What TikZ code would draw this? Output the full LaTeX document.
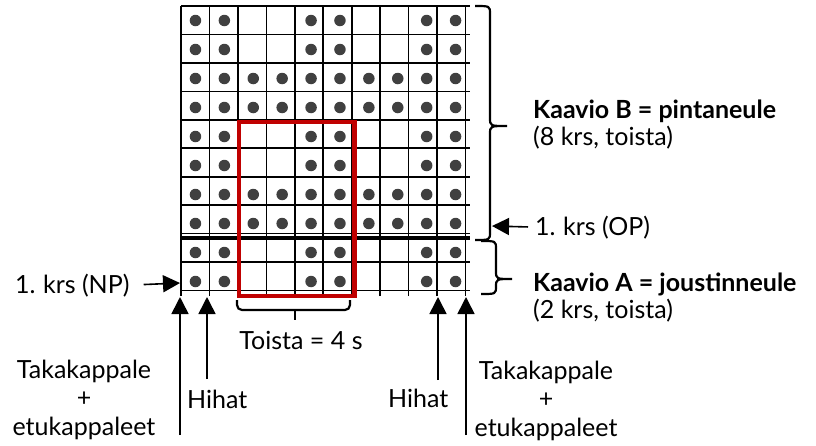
\documentclass[tikz,border=0pt]{standalone}
\usepackage{fontspec}
\setmainfont{Lato}
\usetikzlibrary{arrows.meta}

\definecolor{dotgray}{HTML}{404040}
\definecolor{repred}{HTML}{C00000}

\tikzset{stitch/.style={fill=dotgray,circle,inner sep=0pt,minimum size=11.5pt}}
\tikzstyle{txt}=[font=\fontsize{25}{28.5}\selectfont,inner sep=0pt]
\tikzstyle{arr}=[-{Triangle[width=17pt,length=17pt]},line width=1.6pt]
\tikzstyle{brace}=[line width=2.2pt]

% spine x, tip x, top y, tip y, bottom y
\newcommand{\kbrace}[5]{%
	\draw[brace] ({#1-15},#3) .. controls (#1,#3) .. (#1,{#3+8}) -- (#1,{#4-8})
		.. controls (#1,#4) .. (#2,#4) .. controls (#1,#4) .. (#1,{#4+8})
		-- (#1,{#5-8}) .. controls (#1,#5) .. ({#1-15},#5);}

\begin{document}
\begin{tikzpicture}[x=1pt,y=-1pt]
	\useasboundingbox (0,0) rectangle (816,445);
	\begin{scope}[shift={(181,6)},x=28.9pt,y=-29pt]
		\draw[line width=1.6pt] (0,0) grid (10,10);
		% purl stitches
		\foreach \r in {1,...,10}{
			\foreach \c in {1,2,5,6,9,10}{
				\node[stitch] (s\r-\c) at (\c-0.5,\r-0.5) {};
			}
		}
		\foreach \r in {3,4,7,8}{
			\foreach \c in {3,4,7,8}{
				\node[stitch] (s\r-\c) at (\c-0.5,\r-0.5) {};
			}
		}
		\draw[line width=3.3pt] (0,8) -- (10,8);
		\draw[repred,line width=4.3pt] (2,4) rectangle (6,10);
	\end{scope}

	% chart labels
	\kbrace{490}{507}{6}{126}{240}
	\kbrace{496}{512}{241}{279}{294}
	\node[txt,anchor=base west] (kb) at (533,118) {\textbf{Kaavio B = pintaneule}};
	\node[txt,anchor=base west] (kbsub) at (533,145) {(8 krs, toista)};
	\node[txt,anchor=base west] (ka) at (533,291) {\textbf{Kaavio A = joustinneule}};
	\node[txt,anchor=base west] (kasub) at (533,318) {(2 krs, toista)};

	% first rows
	\node[txt,anchor=base west] (op) at (535,235) {1.\kern-1pt{} krs (OP)};
	\coordinate (opTip) at (492,226);
	\draw[arr,shorten <=7pt] (op.west) -- (opTip);
	\node[txt,anchor=base west] (np) at (15,293) {1.\kern-1pt{} krs (NP)};
	\coordinate (npTip) at (180,283);
	\draw[arr,shorten <=14pt] (np.east) -- (npTip);

	% repeat
	\draw[brace,rounded corners=5pt] (237,300) -- (237,310) -- (350,310) -- (350,300);
	\draw[brace] (295,310) -- (295,320);
	\node[txt,anchor=base] (toista) at (301,349) {Toista = 4 s};

	% pieces
	\foreach \nm/\xx/\yy in {tkL/180/435, hhL/207/379, hhR/438/380, tkR/466/435}{
		\coordinate (\nm Tip) at (\xx,297);
		\coordinate (\nm End) at (\xx,\yy);
		\draw[arr] (\nm End) -- (\nm Tip);
	}
	\node[txt,anchor=base west] (hhL) at (187,408) {Hihat};
	\node[txt,anchor=base west] (hhR) at (388,407) {Hihat};
	\node[txt,align=center,anchor=base] (tkL) at (84,435) {Takakappale\\+\\etukappaleet};
	\node[txt,align=center,anchor=base] (tkR) at (546,436) {Takakappale\\+\\etukappaleet};
\end{tikzpicture}
\end{document}
